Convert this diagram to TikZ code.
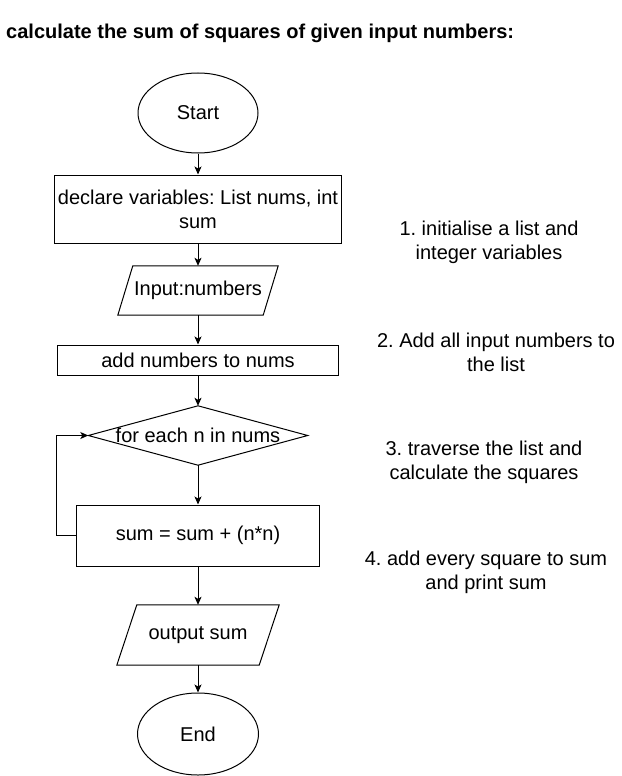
\documentclass[tikz,border=0pt]{standalone}
\usepackage{fontspec}
\setmainfont{Liberation Sans}
\frenchspacing
\usetikzlibrary{arrows.meta,calc,shapes.geometric}
\begin{document}
\begin{tikzpicture}[x=1pt,y=-1pt,
  every node/.style={font=\fontsize{20}{24}\selectfont, inner sep=0pt},
  term/.style={draw, ellipse, line width=1pt},
  proc/.style={draw, rectangle, line width=1pt},
  frame/.style={rectangle, draw=none},
  arr/.style={draw, line width=1pt, -{Stealth[length=8pt,width=7pt,inset=2pt]}},
  note/.style={align=center},
  outline/.style={draw, line width=1pt, line join=miter}
]
\useasboundingbox (0,0) rectangle (621,776);

\node[anchor=base west, font=\fontsize{20}{24}\selectfont\bfseries] (title) at (6,39)
  {calculate the sum of squares of given input numbers:};

\node[term, minimum width=120pt, minimum height=80pt] (start) at (198,113) {\raisebox{-3pt}{Start}};

\node[proc, minimum width=287pt, minimum height=68pt, align=center] (decl) at (198,209)
  {declare variables: List nums, int\\sum};

\node[frame, minimum width=160pt, minimum height=49pt] (inp) at (198,290.5) {Input:numbers};
\draw[outline] ($(inp.north west)+(15,0)$) -- (inp.north east)
  -- ($(inp.south east)+(-15,0)$) -- (inp.south west) -- cycle;

\node[proc, minimum width=281pt, minimum height=30pt] (add) at (198,360) {add numbers to nums};

\node[frame, minimum width=219pt, minimum height=59pt] (dec) at (198,435.5) {for each n in nums};
\draw[outline] (dec.north) -- (dec.east) -- (dec.south) -- (dec.west) -- cycle;

\node[proc, minimum width=243pt, minimum height=61pt] (sum) at (198,535.5) {\raisebox{-1pt}{sum = sum + (n*n)}};

\node[frame, minimum width=162pt, minimum height=60pt] (out) at (198,635) {\raisebox{-1pt}{output sum}};
\draw[outline] ($(out.north west)+(20,0)$) -- (out.north east)
  -- ($(out.south east)+(-20,0)$) -- (out.south west) -- cycle;

\node[term, minimum width=121pt, minimum height=82pt] (end) at (198,734) {\raisebox{-1pt}{End}};

\draw[arr] (start) -- (decl);
\draw[arr] (decl) -- (inp);
\draw[arr] (inp) -- (add);
\draw[arr] (add) -- (dec.north);
\draw[arr] (dec.south) -- (sum);
\draw[arr] (sum.west) -- ++(-20,0) |- (dec.west);
\draw[arr] (sum) -- (out);
\draw[arr] (out) -- (end);

\node[note] (n1) at (489,242) {1. initialise a list and\\integer variables};
\node[note] (n2) at (496,352) {2. Add all input numbers to\\the list};
\node[note] (n3) at (484,462) {3. traverse the list and\\calculate the squares};
\node[note] (n4) at (486,572) {4. add every square to sum\\and print sum};
\end{tikzpicture}
\end{document}
